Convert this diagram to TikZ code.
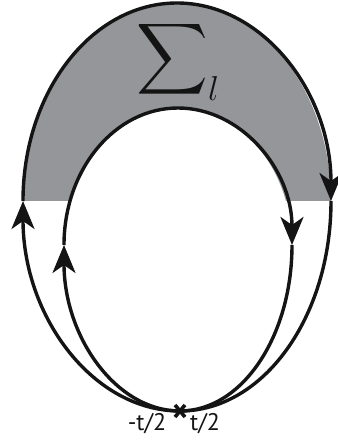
\documentclass[tikz,border=0pt]{standalone}
\usepackage{amsmath}
\usepackage{fontspec}
\setsansfont{PT Sans}
\usetikzlibrary{arrows.meta}
\definecolor{BandGray}{RGB}{148,150,153}
\definecolor{Ink}{RGB}{20,20,20}
\tikzset{
  curve/.style   ={draw=Ink, line width=1.7pt},
  arr/.style     ={curve, -{Stealth[length=14pt,width=11.5pt,inset=4pt]}},
  band/.style    ={fill=BandGray, draw=none},
  cutlbl/.style  ={font=\sffamily\fontsize{12}{12}\selectfont, text=Ink, inner sep=0pt},
}

\begin{document}
\begin{tikzpicture}[x=0.5pt,y=0.5pt]
  \useasboundingbox (0,0) rectangle (338,440);

  % end points of the four strands
  \coordinate (bot) at (180,29);
  \coordinate (ol) at (23,239);
  \coordinate (or) at (331,239);
  \coordinate (il) at (64,195);
  \coordinate (ir) at (292,195);

  % shaded band above the cut
  \path[band] (ol) arc[start angle=180,end angle=0,x radius=154,y radius=198]
    -- (285.96,239) arc[start angle=18.73,end angle=161.27,x radius=114,y radius=137]
    -- cycle;

  % upper arcs
  \draw[arr] (ol) arc[start angle=180,end angle=0,x radius=154,y radius=198];
  \draw[arr] (il) arc[start angle=180,end angle=0,x radius=114,y radius=137];

  % lower strands meeting at the bottom
  \draw[arr] (bot) arc[start angle=270,end angle=180,x radius=157,y radius=210];
  \draw[arr] (bot) arc[start angle=270,end angle=180,x radius=116,y radius=166];
  \draw[curve] (bot) arc[start angle=270,end angle=360,x radius=151,y radius=210];
  \draw[curve] (bot) arc[start angle=270,end angle=360,x radius=112,y radius=166];

  % cross and labels
  \draw[curve,line width=1.8pt] (bot) ++(-5,-6) -- ++(10,12) (bot) ++(-5,6) -- ++(10,-12);
  \node[cutlbl] (lm) at (147,16) {-t/2};
  \node[cutlbl] (lp) at (205,16) {t/2};

  \node[text=Ink,inner sep=0pt] (sig) at (178,380)
    {\fontsize{23}{24}\selectfont$\displaystyle\sum\nolimits_{\text{\fontsize{18}{18}\selectfont$l$}}$};
\end{tikzpicture}
\end{document}
